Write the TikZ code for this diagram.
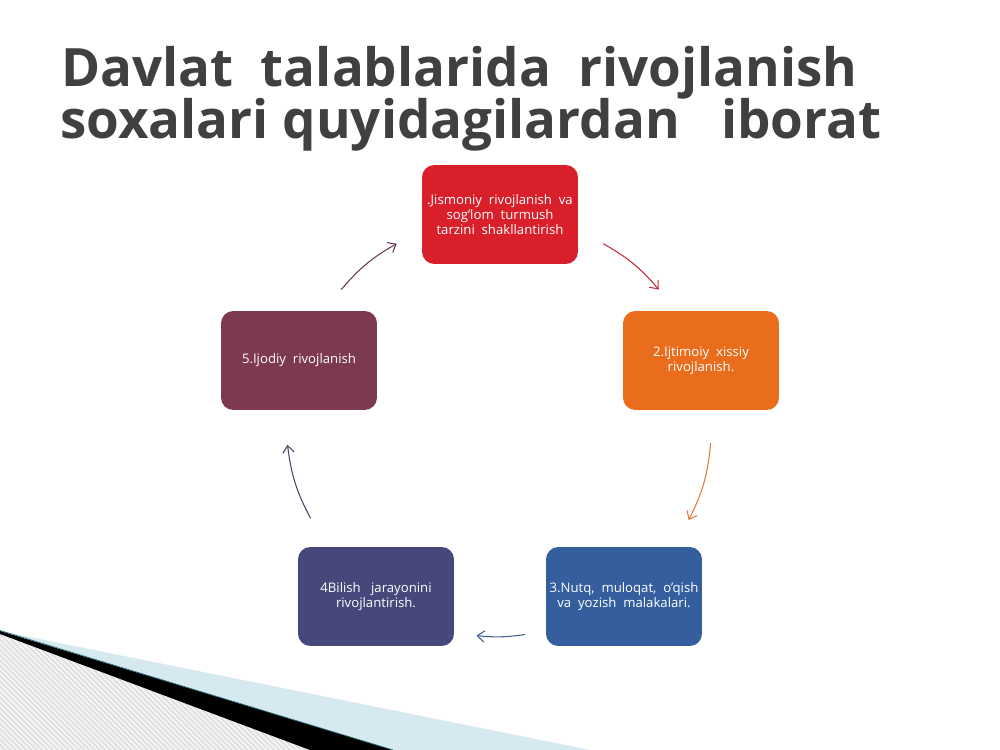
\documentclass[tikz,border=0pt]{standalone}
\usepackage{fontspec}
\setmainfont{Open Sans}
\usetikzlibrary{arrows.meta,calc,patterns}

\definecolor{titlegray}{RGB}{64,64,64}
\definecolor{boxred}{RGB}{216,31,42}
\definecolor{boxorange}{RGB}{234,108,29}
\definecolor{boxblue}{RGB}{52,94,158}
\definecolor{boxnavy}{RGB}{70,71,122}
\definecolor{boxmaroon}{RGB}{125,56,82}
\definecolor{bandblue}{RGB}{214,233,240}
\definecolor{bandteal}{RGB}{40,110,120}

\tikzset{
	stepbox/.style={rounded corners=7pt, minimum width=3.12cm, minimum height=1.98cm,
		text=white, align=center, inner sep=2pt,
		font=\fontsize{7.5}{7.4}\selectfont},
	titletext/.style={anchor=base west, inner sep=0pt, text=titlegray,
		font=\fontsize{30.1}{30}\selectfont\bfseries},
	cycarrow/.style={-{Straight Barb[length=4pt,width=6.5pt]}, line width=0.6pt},
}

\begin{document}
\begin{tikzpicture}[x=0.02cm,y=0.02cm]
		\useasboundingbox (0,0) rectangle (1000,-750);
		\fill[white] (0,0) rectangle (1000,-750);

		%% corner decoration
		\fill[bandblue] (0,-631)--(590,-750)--(393,-750)--cycle;
		\fill[gray!10] (0,-634)--(310,-750)--(0,-750)--cycle;
		\fill[pattern=north west lines, pattern color=gray!35]
			(0,-634)--(310,-750)--(0,-750)--cycle;
		\fill[black] (0,-631)--(393,-750)--(310,-750)--(0,-634)--cycle;
		\draw[bandteal, line width=0.4pt] (0,-630.5)--(393,-750);

		%% title
		\node[titletext] (t1) at (61,-87){Davlat~~talablarida~~rivojlanish};
		\node[titletext] (t2) at (60,-138){soxalari quyidagilardan~~~iborat};

		%% cycle boxes
		\node[stepbox, fill=boxred] (s1) at (500,-214.5)
			{.Jismoniy~~rivojlanish~~va\\sog’lom~~turmush\\tarzini~~shakllantirish};
		\node[stepbox, fill=boxorange] (s2) at (701,-360.5)
			{2.Ijtimoiy~~xissiy\\rivojlanish.};
		\node[stepbox, fill=boxblue] (s3) at (624,-596.5)
			{3.Nutq,~~muloqat,~~o’qish\\va~~yozish~~malakalari.};
		\node[stepbox, fill=boxnavy] (s4) at (376,-596.5)
			{4Bilish~~~jarayonini\\rivojlantirish.};
		\node[stepbox, fill=boxmaroon] (s5) at (299,-360.5)
			{5.Ijodiy~~rivojlanish};

		%% arrow ends on the cycle
		\coordinate (cyc) at (500,-430);
		\coordinate (a5) at ($(cyc)+(138.5:212)$);
		\coordinate (b1) at ($(cyc)+(119:213)$);
		\coordinate (a1) at ($(cyc)+(61:213)$);
		\coordinate (b2) at ($(cyc)+(41.5:212)$);
		\coordinate (a2) at ($(cyc)+(-3.5:211)$);
		\coordinate (b3) at ($(cyc)+(-25.5:209)$);
		\coordinate (a3) at ($(cyc)+(-83:206)$);
		\coordinate (b4) at ($(cyc)+(-96.5:207)$);
		\coordinate (a4) at ($(cyc)+(-155:209)$);
		\coordinate (b5) at ($(cyc)+(-176:213)$);

		\draw[cycarrow, color={rgb,255:red,108;green,58;blue,88}] (a5) to[bend left=10] (b1);
		\draw[cycarrow, color={rgb,255:red,200;green,40;blue,60}] (a1) to[bend left=10] (b2);
		\draw[cycarrow, color={rgb,255:red,225;green,120;blue,60}] (a2) to[bend left=11] (b3);
		\draw[cycarrow, color={rgb,255:red,70;green,95;blue,140}] (a3) to[bend left=7] (b4);
		\draw[cycarrow, color={rgb,255:red,70;green,70;blue,100}] (a4) to[bend left=10.5] (b5);
\end{tikzpicture}
\end{document}
